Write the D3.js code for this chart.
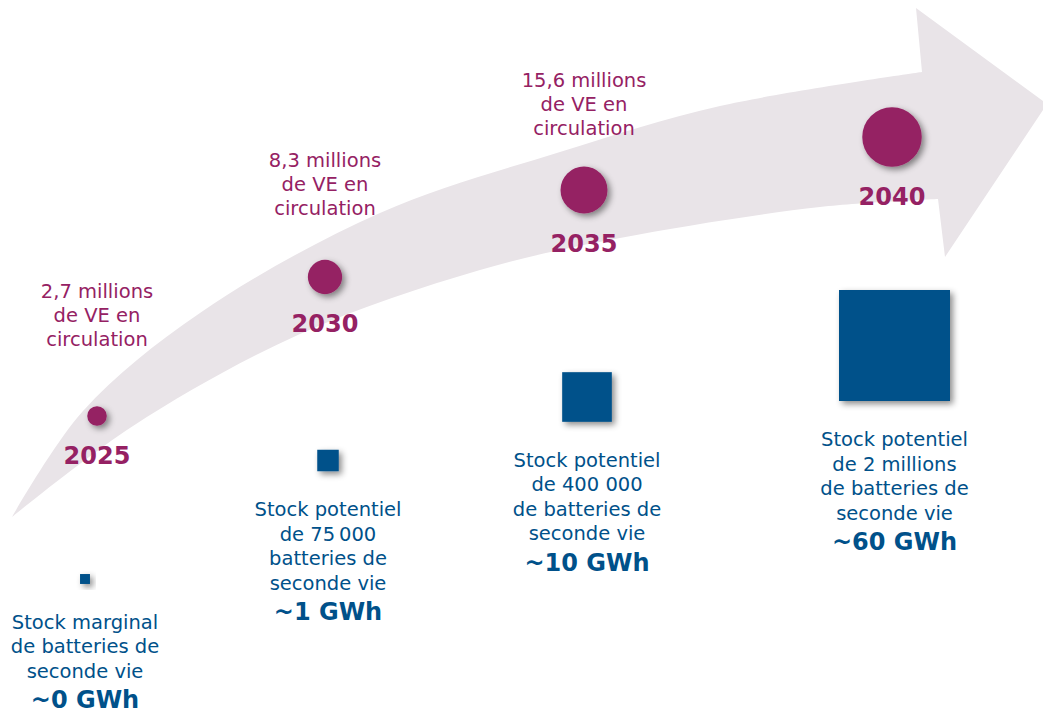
<!DOCTYPE html>
<html><head><meta charset="utf-8">
<script src="https://cdn.jsdelivr.net/npm/d3@7"></script>
<style>html,body{margin:0;padding:0;background:#fff;overflow:hidden}</style>
</head><body>
<svg id="chart" width="1043" height="713"></svg>
<script>
// ---------- Data ----------
const years = ["2025", "2030", "2035", "2040"];
const evMillions = [2.7, 8.3, 15.6, 25]; // 2040 not labelled: estimated from circle size
const evLabels = [
  ["2,7 millions", "de VE en", "circulation"],
  ["8,3 millions", "de VE en", "circulation"],
  ["15,6 millions", "de VE en", "circulation"],
  null
];
const batteries = [16000, 75000, 400000, 2000000]; // 2025 "marginal": estimated from square size
const stockLabels = [
  ["Stock marginal", "de batteries de", "seconde vie"],
  ["Stock potentiel", "de 75\u202f000", "batteries de", "seconde vie"],
  ["Stock potentiel", "de 400 000", "de batteries de", "seconde vie"],
  ["Stock potentiel", "de 2 millions", "de batteries de", "seconde vie"]
];
const gwhLabels = ["~0 GWh", "~1 GWh", "~10 GWh", "~60 GWh"];

// ---------- Layout ----------
const W = 1043, H = 713;
const purple = "#952163", blue = "#00518a", arrowFill = "#e9e4e8";
const circleX = [97, 325, 584, 892];
const circleY = [416, 277, 190, 137];
const evLabelFirstBaseline = [298, 167, 87];
const squareX = [85, 328, 587, 894.5];
const squareY = [579, 460.5, 397, 345.5];
const lineH = 24.5;

// decorative arrow outline
const arrowTop = [[12,517],[83,411],[200,313],[380,213],[560,152],[720,106],[922,72]];
const arrowHead = [[916,8],[1047,104],[945,257],[938,199]];
const arrowBottom = [[938,199],[820,207],[620,238],[480,270],[300,334],[133,426],[12,517]];

const svg = d3.select("#chart");
const defs = svg.append("defs");
const f = defs.append("filter").attr("id", "sh").attr("x", "-60%").attr("y", "-60%").attr("width", "220%").attr("height", "220%");
f.append("feDropShadow").attr("dx", 3).attr("dy", 3).attr("stdDeviation", 3).attr("flood-color", "#000").attr("flood-opacity", 0.45);

const line = d3.line().curve(d3.curveCatmullRom.alpha(0.5));
const p1 = line(arrowTop);
const p2 = arrowHead.map(p => "L" + p[0] + "," + p[1]).join("");
const p3 = line(arrowBottom).replace(/^M/, "L");
svg.append("path").attr("d", p1 + p2 + p3 + "Z").attr("fill", arrowFill);

// scales
const rScale = d3.scaleSqrt().domain([0, 15.6]).range([0, 23.5]);
const sScale = d3.scaleSqrt().domain([0, 2000000]).range([0, 111]);

const font = "'DejaVu Sans', Verdana, sans-serif";

years.forEach((yr, i) => {
  const r = rScale(evMillions[i]);
  svg.append("circle").attr("cx", circleX[i]).attr("cy", circleY[i]).attr("r", r)
    .attr("fill", purple).attr("filter", "url(#sh)");
  svg.append("text").attr("x", circleX[i]).attr("y", circleY[i] + r + 38)
    .attr("text-anchor", "middle").attr("font-family", font).attr("font-weight", "bold")
    .attr("font-size", 24).attr("fill", purple).text(yr);
  if (evLabels[i]) {
    const t = svg.append("text").attr("text-anchor", "middle").attr("font-family", font)
      .attr("font-size", 19.5).attr("fill", purple);
    evLabels[i].forEach((s, j) => {
      t.append("tspan").attr("x", circleX[i]).attr("y", evLabelFirstBaseline[i] + j * 24).text(s);
    });
  }
  const side = sScale(batteries[i]);
  svg.append("rect").attr("x", squareX[i] - side / 2).attr("y", squareY[i] - side / 2)
    .attr("width", side).attr("height", side).attr("fill", blue).attr("filter", "url(#sh)");
  const base = squareY[i] + side / 2 + 45;
  const t2 = svg.append("text").attr("text-anchor", "middle").attr("font-family", font)
    .attr("font-size", 19.5).attr("fill", blue);
  stockLabels[i].forEach((s, j) => {
    t2.append("tspan").attr("x", squareX[i]).attr("y", base + j * lineH).text(s);
  });
  svg.append("text").attr("x", squareX[i])
    .attr("y", base + (stockLabels[i].length - 1) * lineH + 30.5)
    .attr("text-anchor", "middle").attr("font-family", font).attr("font-weight", "bold")
    .attr("font-size", 24).attr("fill", blue).text(gwhLabels[i]);
});
</script>
</body></html>
